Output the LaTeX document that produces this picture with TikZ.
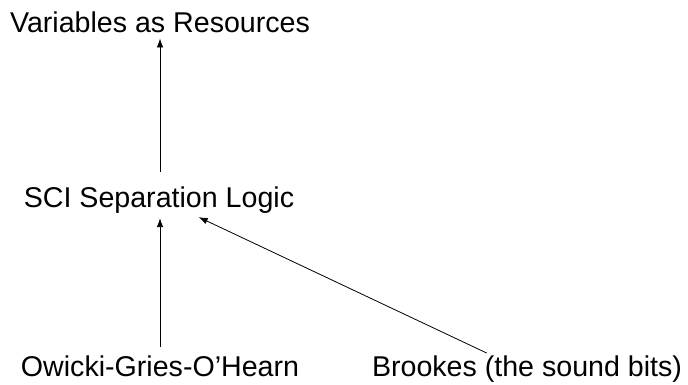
\documentclass[tikz,border=0pt]{standalone}
\usepackage{fontspec}
\setmainfont{Liberation Sans}
\usetikzlibrary{arrows.meta}
\tikzset{
  lbl/.style={inner sep=0pt, anchor=base, font=\fontsize{28.6}{34}\selectfont},
  conn/.style={line width=0.8pt, -{Latex[length=9pt,width=6.5pt]}}
}
\begin{document}
\begin{tikzpicture}[x=1pt,y=1pt]
\useasboundingbox (0,0) rectangle (688,-384);
\node[lbl] (var) at (160,-32) {Variables as Resources};
\node[lbl] (sci) at (159,-207) {SCI Separation Logic};
\node[lbl] (ogo) at (160,-376) {Owicki-Gries-O’Hearn};
\node[lbl] (brk) at (527,-376) {Brookes (the sound bits)};
\draw[conn] ([xshift=1pt,yshift=14pt]sci.north) -- ([yshift=-6pt]var.south);
\draw[conn] ([yshift=8pt]ogo.north) -- ([xshift=1pt,yshift=-5pt]sci.south);
\draw[conn] ([xshift=115pt,yshift=2pt]brk.north west) -- ([xshift=175pt,yshift=-4pt]sci.south west);
\end{tikzpicture}
\end{document}
